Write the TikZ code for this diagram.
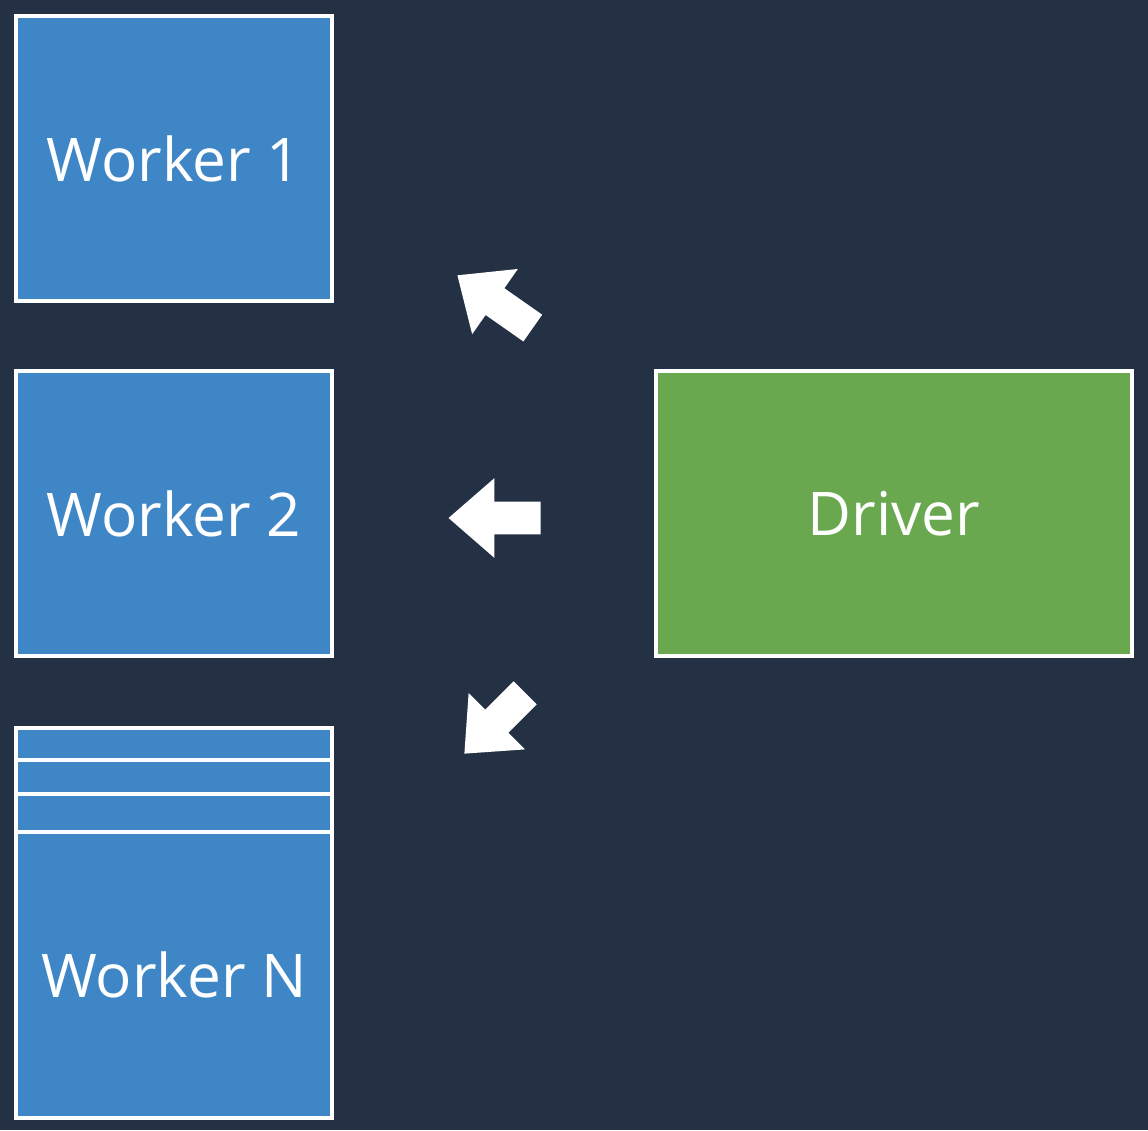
\documentclass[tikz,border=0pt]{standalone}
\usepackage{fontspec}
\setmainfont{Open Sans}
\usetikzlibrary{shapes.arrows, positioning}
\definecolor{slatebg}{RGB}{36,49,69}
\definecolor{workerblue}{RGB}{63,134,198}
\definecolor{drivergreen}{RGB}{106,168,79}

\begin{document}
\begin{tikzpicture}[x=0.02cm, y=-0.02cm,
  wbox/.style={draw=white, line width=2pt, fill=workerblue, outer sep=0pt, inner sep=0pt, minimum width=6.32cm, minimum height=5.7cm, text=white, font=\fontsize{34.3}{40}\selectfont},
  strip/.style={draw=white, line width=2pt, fill=workerblue, outer sep=0pt, inner sep=0pt, minimum width=6.32cm},
  dbox/.style={wbox, fill=drivergreen, minimum width=9.52cm},
  blockarrow/.style={single arrow, fill=white, inner sep=0pt, inner ysep=0.32cm, minimum height=1.84cm, single arrow head extend=0.47cm, single arrow tip angle=82, anchor=tip}
]
  \fill[slatebg] (0,0) rectangle (1148,1130);
  \node[wbox] (w1) at (174,158.5) {Worker 1};
  \node[wbox] (w2) at (174,513.5) {Worker 2};
  \node[wbox, minimum height=5.72cm] (wn) at (174,975) {Worker N};
  \node[strip, minimum height=0.76cm, above=0pt of wn] (wnc) {};
  \node[strip, minimum height=0.68cm, above=0pt of wnc] (wnb) {};
  \node[strip, minimum height=0.64cm, above=0pt of wnb] (wna) {};
  \node[dbox] (drv) at (894,513.5) {Driver};
  \node[blockarrow, rotate=145] (toW1) at (457,275) {};
  \node[blockarrow, rotate=180] (toW2) at (448,518) {};
  \node[blockarrow, rotate=225, minimum height=1.72cm] (toWN) at (464,754) {};
\end{tikzpicture}
\end{document}
